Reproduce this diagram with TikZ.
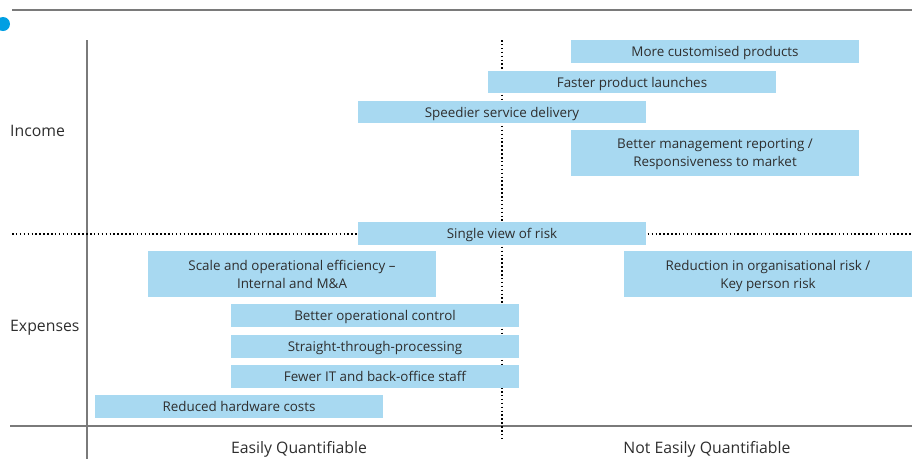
\documentclass[tikz,border=0pt]{standalone}
\usepackage{fontspec}
\setmainfont{Open Sans}
\definecolor{boxblue}{HTML}{A8D9F1}
\definecolor{dotblue}{HTML}{009FE3}
\definecolor{axisgray}{HTML}{7A7A7A}
\definecolor{txt}{HTML}{2E2E2E}
\begin{document}
\begin{tikzpicture}[x=1pt,y=-1pt,
  bluebox/.style={fill=boxblue,draw=none,inner sep=0pt,align=center,text=txt,text depth=-3pt,font=\fontsize{13.4}{18}\selectfont},
  axisline/.style={draw=axisgray,line width=1.2pt},
  dotline/.style={draw=black,line width=2pt,dash pattern=on 1.5pt off 2.4pt},
  lbl/.style={text=txt,font=\fontsize{15.8}{18}\selectfont,inner sep=0pt}]
\useasboundingbox (0,0) rectangle (912,459);
% axes
\draw[axisline] (12,10) -- (912,10);
\draw[axisline] (87,40) -- (87,459);
\draw[axisline] (10,426) -- (912,426);
\fill[dotblue] (3,24) circle (7);
% dotted dividers
\coordinate (vt) at (502,40);
\coordinate (vb) at (502,440);
\coordinate (hl) at (12,234);
\coordinate (hr) at (912,234);
\draw[dotline] (vt) -- (vb);
\draw[dotline] (hl) -- (hr);
% boxes
\node[bluebox,minimum width=288,minimum height=23] (b1) at (715,51.5) {More customised products};
\node[bluebox,minimum width=288,minimum height=22] (b2) at (632,82) {Faster product launches};
\node[bluebox,minimum width=288,minimum height=22] (b3) at (502,112) {Speedier service delivery};
\node[bluebox,minimum width=288,minimum height=46] (b4) at (715,153) {Better management reporting /\\Responsiveness to market};
\node[bluebox,minimum width=288,minimum height=23] (b5) at (502,233.5) {Single view of risk};
\node[bluebox,minimum width=288,minimum height=46] (b6) at (292,274) {Scale and operational efficiency –\\Internal and M\&A};
\node[bluebox,minimum width=288,minimum height=46] (b7) at (768,274) {Reduction in organisational risk /\\Key person risk};
\node[bluebox,minimum width=288,minimum height=23] (b8) at (375,315.5) {Better operational control};
\node[bluebox,minimum width=288,minimum height=23] (b9) at (375,346.5) {Straight-through-processing};
\node[bluebox,minimum width=288,minimum height=23] (b10) at (375,376.5) {Fewer IT and back-office staff};
\node[bluebox,minimum width=288,minimum height=23] (b11) at (239,406.5) {Reduced hardware costs};
% labels
\node[lbl,anchor=west] (inc) at (10,131) {Income};
\node[lbl,anchor=west] (exp) at (10,328) {Expenses};
\node[lbl] (eq) at (299,449) {Easily Quantifiable};
\node[lbl] (neq) at (707,449) {Not Easily Quantifiable};
\end{tikzpicture}
\end{document}
